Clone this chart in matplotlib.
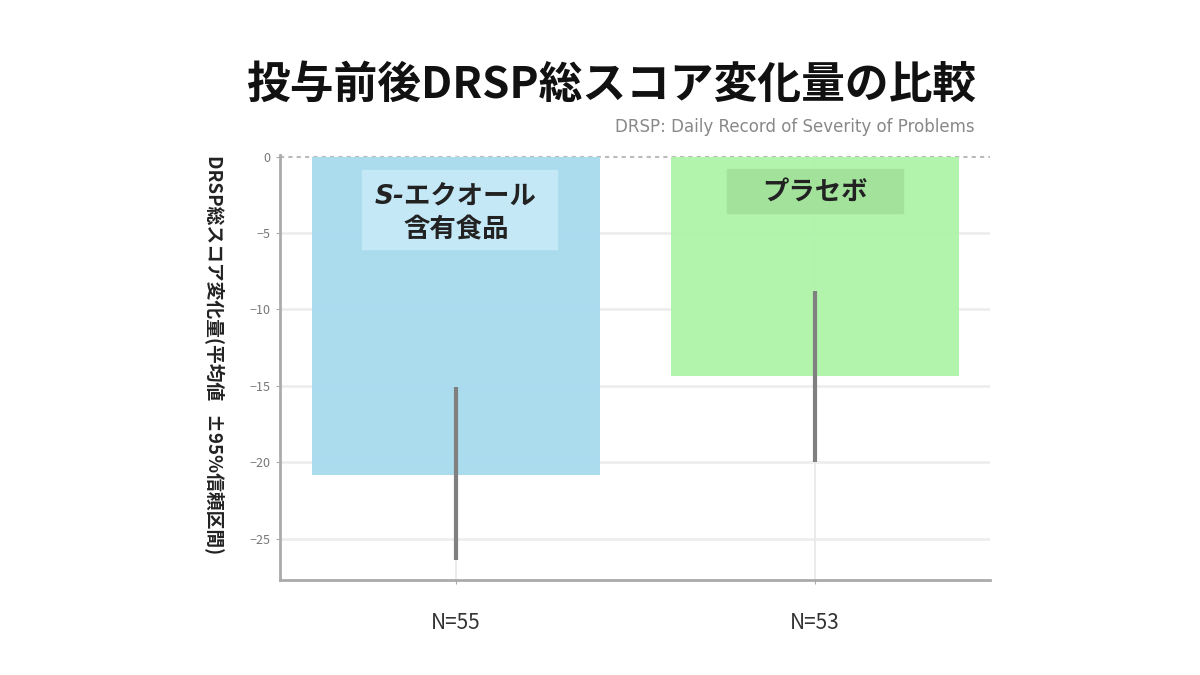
import matplotlib
matplotlib.use("Agg")
import matplotlib.pyplot as plt
from matplotlib.patches import Rectangle

plt.rcParams['font.family'] = ['Noto Sans CJK JP', 'DejaVu Sans']

# データ
groups = ["S-エクオール\n含有食品", "プラセボ"]
n_labels = ["N=55", "N=53"]
means = [-20.8, -14.35]
ci_low = [-26.4, -20.0]
ci_high = [-15.1, -8.8]
yticks = [0, -5, -10, -15, -20, -25]

colors = ["#a8dbee", "#b0f4aa"]
box_colors = ["#c4e8f6", "#a2e29b"]

fig = plt.figure(figsize=(12, 6.75), dpi=100)
ax = fig.add_axes([0.2333, 0.1407, 0.5917, 0.6297])

x = [0, 1]
ax.set_xlim(-0.49, 1.487)
ax.set_ylim(-27.7, 0.1)

# グリッド
for t in yticks[1:]:
    ax.axhline(t, color="#eeeeee", lw=2, zorder=0)
ax.axhline(0, color="#bbbbbb", lw=1.5, ls=(0, (2, 2)), zorder=0)
for xi in x:
    ax.axvline(xi, color="#e8e8e8", lw=1.2, zorder=0)

ax.bar(x, means, width=0.8, color=colors, alpha=0.97, zorder=1)

err_lo = [m - lo for m, lo in zip(means, ci_low)]
err_hi = [hi - m for m, hi in zip(means, ci_high)]
ax.errorbar(x, means, yerr=[err_lo, err_hi], fmt="none", ecolor="#808080",
            elinewidth=3, capsize=0, zorder=3)

# 群ラベル
ax.add_patch(Rectangle((-0.262, -6.05), 0.543, 5.2, color=box_colors[0], zorder=2))
ax.text(0.0, -2.6, "S-エクオール", ha="center", va="center", fontsize=19,
        fontweight="bold", style="italic", color="#222222", zorder=4,
        family=['DejaVu Sans', 'Noto Sans CJK JP'])
ax.text(0.0, -4.8, "含有食品", ha="center", va="center", fontsize=19,
        fontweight="bold", color="#222222", zorder=4)
ax.add_patch(Rectangle((0.755, -3.7), 0.49, 2.86, color=box_colors[1], zorder=2))
ax.text(1.0, -2.3, groups[1], ha="center", va="center", fontsize=19,
        fontweight="bold", color="#222222", zorder=4)

ax.set_yticks(yticks)
ax.set_yticklabels([str(t) if t == 0 else "−" + str(-t) for t in yticks],
                   fontsize=9, color="#777777")
ax.set_xticks(x)
ax.set_xticklabels(n_labels, fontsize=15, color="#333333")
ax.tick_params(axis="x", pad=20, length=3, color="#aaaaaa")
ax.tick_params(axis="y", length=3, color="#aaaaaa", pad=4)

for s in ["top", "right"]:
    ax.spines[s].set_visible(False)
for s in ["left", "bottom"]:
    ax.spines[s].set_color("#aaaaaa")
    ax.spines[s].set_linewidth(2)

fig.text(0.178, 0.77, "DRSP総スコア変化量(平均値   ±95%信頼区間)",
         rotation=270, ha="center", va="top", fontsize=13.5, fontweight="bold",
         color="#222222")

fig.text(0.509, 0.874, "投与前後DRSP総スコア変化量の比較", ha="center", va="center",
         fontsize=31.5, fontweight="bold", color="#111111")
fig.text(0.812, 0.812, "DRSP: Daily Record of Severity of Problems", ha="right",
         va="center", fontsize=12, color="#888888", family="DejaVu Sans")

fig.savefig("out.png", dpi=100)
